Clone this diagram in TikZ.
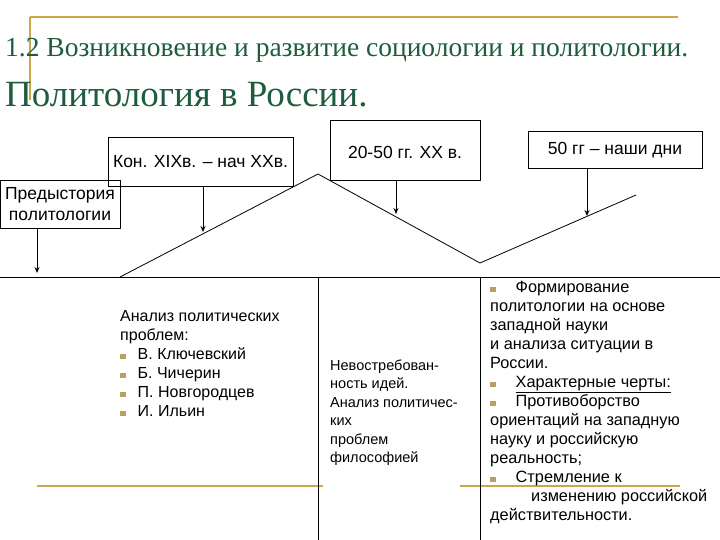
\documentclass[tikz,border=0pt]{standalone}
\usepackage{fontspec}
\setmainfont{Liberation Sans}
\newfontfamily\serif{Liberation Serif}
\usetikzlibrary{arrows.meta}
\definecolor{gold}{HTML}{C8A84A}
\definecolor{ttl}{HTML}{1F5C3E}
\definecolor{bul}{HTML}{B8A060}
\newcommand{\bl}{\textcolor{bul}{\rule{5.5pt}{5.5pt}}}
\begin{document}
\begin{tikzpicture}[x=1pt,y=-1pt,
  box/.style={draw,line width=0.8pt,inner sep=0pt,font=\fontsize{17.5}{21}\selectfont,align=center},
  arr/.style={-{Stealth[length=6pt,width=5pt]},line width=1pt},
  tx/.style={anchor=base west,inner sep=0pt,font=\fontsize{14.5}{16}\selectfont},
  txl/.style={tx,font=\fontsize{16}{18}\selectfont},
  txr/.style={tx,font=\fontsize{16.3}{18}\selectfont}]
\useasboundingbox (0,0) rectangle (720,540);
\draw[gold,line width=1.5pt] (30,17) coordinate(g1) -- (678,17) coordinate(g2);
\draw[gold,line width=1.5pt] (g1) -- (30,100) coordinate(g3);
\draw[gold,line width=1.5pt] (37,486) coordinate(g4) -- (323,486) coordinate(g5);
\draw[gold,line width=1.5pt] (460,486) coordinate(g6) -- (680,486) coordinate(g7);
\node[anchor=base west,inner sep=0pt,text=ttl,font=\serif\fontsize{27.5}{30}\selectfont] (t1) at (5,57) {1.2 Возникновение и развитие социологии и политологии.};
\node[anchor=base west,inner sep=0pt,text=ttl,font=\serif\fontsize{37}{40}\selectfont] (t2) at (5,107) {Политология в России.};
\node[box,minimum width=120pt,minimum height=48pt] (b1) at (60,204) {Предыстория\\политологии};
\node[box,minimum width=185pt,minimum height=49pt] (b2) at (200.5,162) {Кон. XIXв. – нач XXв.};
\node[box,minimum width=150pt,minimum height=60pt,anchor=north] (b3) at (405,120) {};
\node[anchor=base,inner sep=0pt,font=\fontsize{17.5}{21}\selectfont] (b3t) at (405,159) {20-50 гг. XX в.};
\node[box,minimum width=174pt,minimum height=37pt] (b4) at (615,150) {50 гг – наши дни};
\coordinate (z0) at (120,277); \coordinate (z1) at (318,174);
\coordinate (z2) at (480,263); \coordinate (z3) at (636,195);
\draw[line width=0.8pt] (z0) -- (z1) -- (z2) -- (z3);
\coordinate (h0) at (0,277); \coordinate (h1) at (720,277);
\draw[line width=0.8pt] (h0) -- (h1);
\draw[line width=0.8pt] (318,277) coordinate(v1) -- (318,540) coordinate(v2);
\draw[line width=0.8pt] (480,277) coordinate(v3) -- (480,540) coordinate(v4);
\coordinate (a1) at (37,273); \coordinate (a2) at (203,232);
\coordinate (a3) at (396,214); \coordinate (a4) at (587,216);
\draw[arr] (b1.south -| a1) -- (a1);
\draw[arr] (b2.south -| a2) -- (a2);
\draw[arr] (b3.south -| a3) -- (a3);
\draw[arr] (b4.south -| a4) -- (a4);
% left column
\node[txl] (l1) at (120,321) {Анализ политических};
\node[txl] (l2) at (120,340) {проблем:};
\node[txl] (l3) at (120,359) {\bl\hspace{12pt}В. Ключевский};
\node[txl] (l4) at (120,378) {\bl\hspace{12pt}Б. Чичерин};
\node[txl] (l5) at (120,397) {\bl\hspace{12pt}П. Новгородцев};
\node[txl] (l6) at (120,416) {\bl\hspace{12pt}И. Ильин};
% middle column
\node[tx] (m1) at (330,370) {Невостребован-};
\node[tx] (m2) at (330,388.5) {ность идей.};
\node[tx] (m3) at (330,407) {Анализ политичес-};
\node[tx] (m4) at (330,425.5) {ких};
\node[tx] (m5) at (330,444) {проблем};
\node[tx] (m6) at (330,462.5) {философией};
% right column
\node[txr] (r1) at (490,292) {\bl\hspace{20pt}Формирование};
\node[txr] (r2) at (490,311) {политологии на основе};
\node[txr] (r3) at (490,330) {западной науки};
\node[txr] (r4) at (490,349) {и анализа ситуации в};
\node[txr] (r5) at (490,368) {России.};
\node[txr] (r6) at (490,387) {\bl\hspace{20pt}\underline{Характерные черты:}};
\node[txr] (r7) at (490,406) {\bl\hspace{20pt}Противоборство};
\node[txr] (r8) at (490,425) {ориентаций на западную};
\node[txr] (r9) at (490,444) {науку и российскую};
\node[txr] (r10) at (490,463) {реальность;};
\node[txr] (r11) at (490,482) {\bl\hspace{20pt}Стремление к};
\node[txr] (r12) at (531,501) {изменению российской};
\node[txr] (r13) at (490,520) {действительности.};
\end{tikzpicture}
\end{document}
